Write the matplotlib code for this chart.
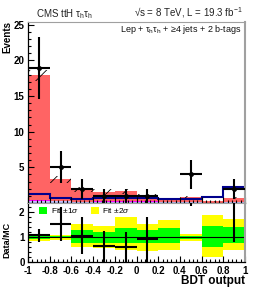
import numpy as np
import matplotlib
matplotlib.use("Agg")
import matplotlib.pyplot as plt
from matplotlib.ticker import MultipleLocator

plt.rcParams['font.family'] = ['Liberation Sans', 'DejaVu Sans']
plt.rcParams['mathtext.fontset'] = 'custom'
plt.rcParams['mathtext.rm'] = 'Liberation Sans'
plt.rcParams['mathtext.it'] = 'Liberation Sans:italic'
plt.rcParams['mathtext.bf'] = 'Liberation Sans:bold'
plt.rcParams['hatch.linewidth'] = 0.6

# BDT output bins
bin_edges = [-1.0, -0.8, -0.6, -0.4, -0.2, 0.0, 0.2, 0.4, 0.6, 0.8, 1.0]

# stacked backgrounds (events per bin)
bkg_light = [0.30, 0.25, 0.15, 0.20, 0.20, 0.15, 0.10, 0.10, 0.05, 0.10]
bkg_magenta = [0.10, 0.10, 0.05, 0.15, 0.15, 0.10, 0.05, 0.05, 0.02, 0.05]
bkg_red = [17.50, 2.95, 1.70, 1.25, 1.30, 0.85, 0.45, 0.75, 0.18, 0.60]
bkg_relerr = [0.04, 0.15, 0.20, 0.20, 0.20, 0.20, 0.15, 0.15, 0.30, 0.20]

# signal overlay (not stacked)
signal = [1.20, 0.75, 0.50, 0.75, 0.75, 0.75, 0.60, 0.60, 0.90, 2.25]

# observed data
data = [19, 5, 2, 1, 1, 1, 0, 4, 0, 2]

# ratio panel fit bands
band1_lo = [0.92, 0.95, 0.75, 0.77, 0.77, 0.75, 0.75, 0.94, 0.60, 0.77]
band1_hi = [1.06, 1.04, 1.28, 1.21, 1.37, 1.28, 1.37, 1.06, 1.43, 1.41]
band2_lo = [0.86, 0.88, 0.59, 0.55, 0.49, 0.45, 0.50, 0.86, 0.19, 0.50]
band2_hi = [1.14, 1.10, 1.51, 1.43, 1.80, 1.51, 1.67, 1.12, 1.87, 1.73]

RED = '#ff6464'
LIGHT = '#c4c4ff'
MAGENTA = '#ff00ff'
NAVY = '#00008c'

edges = np.array(bin_edges)
left = edges[:-1]
width = np.diff(edges)
centers = left + width / 2
light = np.array(bkg_light)
mag = np.array(bkg_magenta)
red = np.array(bkg_red)
total = light + mag + red
d = np.array(data, dtype=float)
keep = d > 0

fig = plt.figure(figsize=(2.58, 2.90), dpi=100)
ax1 = fig.add_axes([28 / 258, 1 - 203 / 290, 217 / 258, 181 / 290])
ax2 = fig.add_axes([28 / 258, 1 - 262 / 290, 217 / 258, 59 / 290])

# --- top panel
ax1.bar(left, light, width=width, align='edge', color=LIGHT, lw=0)
ax1.bar(left, mag, width=width, bottom=light, align='edge', color=MAGENTA, lw=0)
ax1.bar(left, red, width=width, bottom=light + mag, align='edge', color=RED, lw=0)
err = total * np.array(bkg_relerr)
ax1.stairs(total + err, edges, baseline=total - err, fill=True,
           facecolor='none', edgecolor='black', hatch='//', lw=0)
ax1.stairs(signal, edges, color=NAVY, lw=1.5, baseline=None)
ax1.errorbar(centers[keep], d[keep], xerr=width[keep] / 2, yerr=np.sqrt(d[keep]),
             fmt='o', ms=2.5, color='black', elinewidth=1.5, capsize=0, zorder=5)

ax1.set_xlim(-1, 1)
ax1.set_ylim(0, 25.4)
ax1.set_yticks([5, 10, 15, 20, 25])
ax1.yaxis.set_minor_locator(MultipleLocator(1))
ax1.xaxis.set_major_locator(MultipleLocator(0.2))
ax1.xaxis.set_minor_locator(MultipleLocator(0.04))
ax1.tick_params(axis='x', labelbottom=False)

# --- ratio panel
xs = np.repeat(edges, 2)[1:-1]
ax2.fill_between(xs, np.repeat(band2_lo, 2), np.repeat(band2_hi, 2),
                 color='#ffff00', lw=0, label='Fit $\\pm2\\sigma$')
ax2.fill_between(xs, np.repeat(band1_lo, 2), np.repeat(band1_hi, 2),
                 color='#00ff00', lw=0, label='Fit $\\pm1\\sigma$')
ax2.axhline(1, color='black', lw=0.8)
ratio = d / total
ratio_err = np.sqrt(d) / total
ax2.errorbar(centers[keep], ratio[keep], xerr=width[keep] / 2, yerr=ratio_err[keep],
             fmt='o', ms=0, color='black', elinewidth=1.5, capsize=0, zorder=5)
ax2.set_xlim(-1, 1)
ax2.set_ylim(0, 2.36)
ax2.set_yticks([0, 1, 2])
ax2.yaxis.set_minor_locator(MultipleLocator(0.2))
ax2.xaxis.set_minor_locator(MultipleLocator(0.04))
ax2.set_xticks([-1, -0.8, -0.6, -0.4, -0.2, 0, 0.2, 0.4, 0.6, 0.8, 1])
ax2.set_xticklabels(['-1', '-0.8', '-0.6', '-0.4', '-0.2', '0', '0.2', '0.4', '0.6', '0.8', '1'])

handles, labels = ax2.get_legend_handles_labels()
ax2.legend(handles[::-1], labels[::-1], loc='upper left', ncol=2, frameon=False,
           fontsize=6, handlelength=1.0, handleheight=0.9, handletextpad=0.4,
           columnspacing=1.4, borderaxespad=0.15, bbox_to_anchor=(0.03, 1.02))

for ax in (ax1, ax2):
    ax.tick_params(which='both', direction='in', top=False, right=False,
                   labelsize=7, pad=2.5, width=0.8)
    ax.tick_params(which='major', length=4.5)
    ax.tick_params(which='minor', length=2.5)
    for lab in ax.get_xticklabels() + ax.get_yticklabels():
        lab.set_fontweight('bold')
    ax.spines['top'].set_color('#a0a0a0')
    ax.spines['right'].set_color('#a0a0a0')
    ax.spines['right'].set_linewidth(1.5)
    ax.spines['left'].set_linewidth(0.9)
    ax.spines['bottom'].set_linewidth(0.9)
ax2.tick_params(axis='x', pad=3)

# --- texts
fig.text(36 / 258, 1 - 17 / 290, 'CMS ttH \u03c4$_\\mathrm{h}$\u03c4$_\\mathrm{h}$',
         fontsize=7, color='#222222', va='baseline')
fig.text(243 / 258, 1 - 17 / 290, '\u221as = 8 TeV, L = 19.3 fb$^{-1}$',
         fontsize=7, color='#222222', ha='right', va='baseline')
fig.text(241 / 258, 1 - 32 / 290,
         'Lep + \u03c4$_\\mathrm{h}$\u03c4$_\\mathrm{h}$ + \u22654 jets + 2 b-tags',
         fontsize=6.5, color='#111111', ha='right', va='baseline')
fig.text(7 / 258, 1 - 21 / 290, 'Events', rotation=90, fontsize=7,
         fontweight='bold', ha='center', va='top')
fig.text(7 / 258, 1 - 240 / 290, 'Data/MC', rotation=90, fontsize=6.5,
         fontweight='bold', ha='center', va='center')
fig.text(245 / 258, 1 - 284 / 290, 'BDT output', fontsize=8.5,
         fontweight='bold', ha='right', va='baseline')

fig.savefig('out.png', dpi=100)
